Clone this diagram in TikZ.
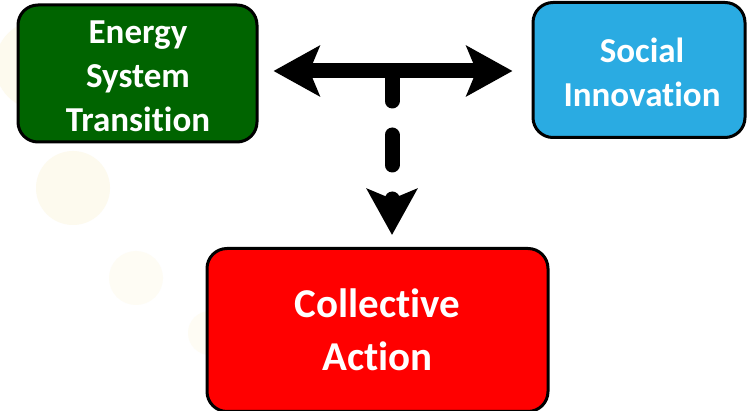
\documentclass[tikz,border=0pt]{standalone}
\usepackage{fontspec}
\setmainfont{Carlito}[RawFeature=-liga]
\usetikzlibrary{arrows.meta}
\definecolor{boxgreen}{HTML}{006400}
\definecolor{boxblue}{HTML}{2AABE2}
\definecolor{boxred}{HTML}{FF0000}
\definecolor{bgdot}{HTML}{FDFAEE}
\definecolor{bgdotlight}{HTML}{FEFCF4}
\tikzset{
  box/.style={draw=black, line width=3pt, rounded corners=20pt, text=white,
    font=\bfseries\fontsize{35}{44}\selectfont, align=center, inner sep=0pt},
  link/.style={line width=15pt, -{Stealth[length=46pt,width=50pt,inset=10pt]}},
}
\begin{document}
\begin{tikzpicture}[x=1pt,y=-1pt]
\useasboundingbox[fill=white] (0,0) rectangle (747,411);
% faint background circles
\fill[bgdot] (40,65) circle (45);
\fill[bgdot] (73,188) circle (37);
\fill[bgdotlight] (136,278) circle (27);
\fill[bgdotlight] (210,333) circle (22);
% boxes
\node[box, fill=boxgreen, minimum width=239pt, minimum height=137pt] (est) at (137.5,73.5) {};
\node[text=white, font=\bfseries\fontsize{35}{44}\selectfont, align=center, inner sep=0pt] (estt) at (138,76) {Energy\\System\\Transition};
\node[box, fill=boxblue, minimum width=212pt, minimum height=135pt] (si) at (639,70) {};
\node[text=white, font=\bfseries\fontsize{35}{44}\selectfont, align=center, inner sep=0pt] (sit) at (642,72) {Social\\Innovation};
\node[box, fill=boxred, font=\bfseries\fontsize{41}{53}\selectfont, minimum width=341pt, minimum height=163pt] (ca) at (377.5,330) {Collective\\Action};
% connectors
\coordinate (mid) at (392,71);
\draw[link, {Stealth[length=46pt,width=50pt,inset=10pt]}-{Stealth[length=46pt,width=50pt,inset=10pt]}, shorten <=15pt, shorten >=19pt] (est.east |- mid) -- (si.west |- mid);
\draw[link, line cap=round, dash pattern=on 30pt off 34pt, shorten >=12pt] (mid) -- (mid |- ca.north);
\end{tikzpicture}
\end{document}
